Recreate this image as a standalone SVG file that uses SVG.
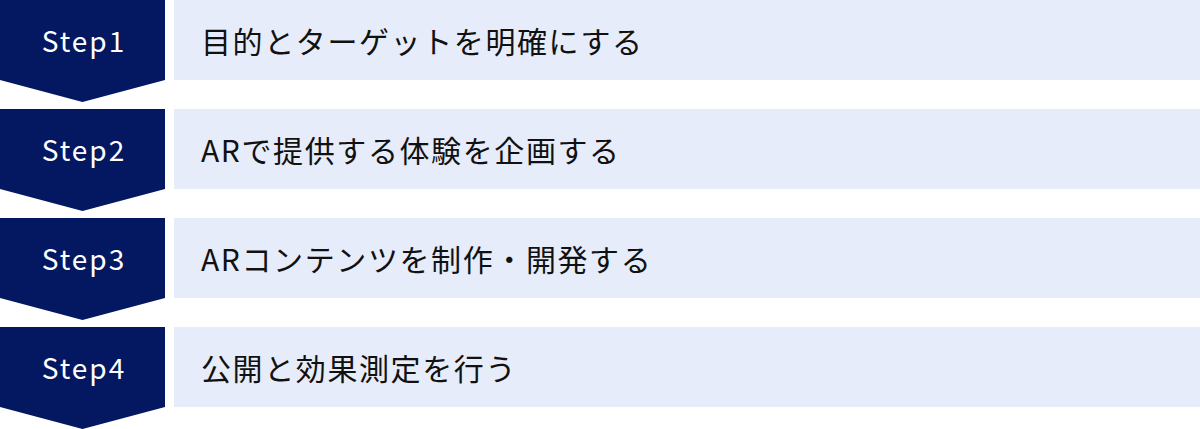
<svg xmlns="http://www.w3.org/2000/svg" width="1200" height="429" viewBox="0 0 1200 429">
<style>
.badge{fill:#041761}
.bar{fill:#E6ECFA}
.st{font-family:"Noto Sans CJK JP","Noto Sans",sans-serif;font-size:28px;fill:#ffffff;text-anchor:middle;letter-spacing:2px}
.lb{font-family:"Noto Sans CJK JP","Noto Sans",sans-serif;font-size:30px;fill:#111111;letter-spacing:1.6px}
</style>
<rect width="1200" height="429" fill="#ffffff"/>
<g id="step1">
<polygon class="badge" points="0,0 165,0 165,80 82.5,102 0,80"/>
<rect class="bar" x="174" y="0" width="1026" height="80"/>
<text class="st" x="84" y="52">Step1</text>
<text class="lb" x="201" y="53">目的とターゲットを明確にする</text>
</g>
<g id="step2">
<polygon class="badge" points="0,109 165,109 165,189 82.5,211 0,189"/>
<rect class="bar" x="174" y="109" width="1026" height="80"/>
<text class="st" x="84" y="161">Step2</text>
<text class="lb" x="201" y="162">ARで提供する体験を企画する</text>
</g>
<g id="step3">
<polygon class="badge" points="0,218 165,218 165,298 82.5,320 0,298"/>
<rect class="bar" x="174" y="218" width="1026" height="80"/>
<text class="st" x="84" y="270">Step3</text>
<text class="lb" x="201" y="271">ARコンテンツを制作・開発する</text>
</g>
<g id="step4">
<polygon class="badge" points="0,327 165,327 165,407 82.5,429 0,407"/>
<rect class="bar" x="174" y="327" width="1026" height="80"/>
<text class="st" x="84" y="379">Step4</text>
<text class="lb" x="201" y="380">公開と効果測定を行う</text>
</g>
<g id="connectors"></g>
</svg>
